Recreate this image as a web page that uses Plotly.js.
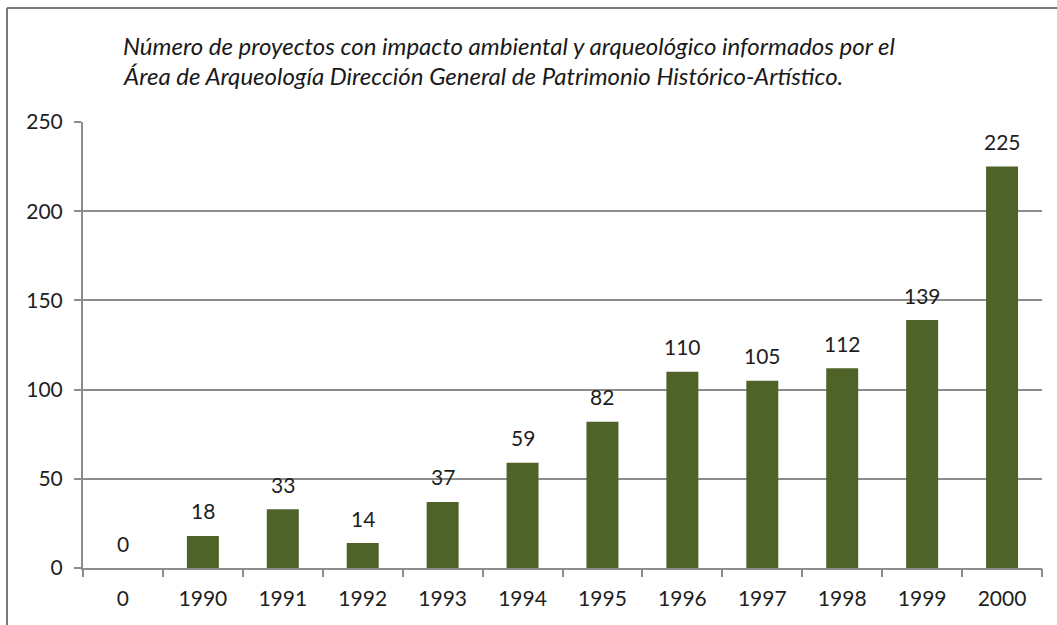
<!DOCTYPE html>
<html><head><meta charset="utf-8">
<script src="https://cdn.plot.ly/plotly-3.0.1.min.js"></script>
<style>html,body{margin:0;padding:0;background:#fff}#c{width:1057px;height:625px}</style>
</head><body><div id="c"></div>
<script>
const categories = ["0","1990","1991","1992","1993","1994","1995","1996","1997","1998","1999","2000"];
const values = [0,18,33,14,37,59,82,110,105,112,139,225];
const yTicks = [0,50,100,150,200,250];
const titleLines = [
  "Número de proyectos con impacto ambiental y arqueológico informados por el",
  "Área de Arqueología Dirección General de Patrimonio Histórico-Artístico."
];

const FONT = "Lato, 'Open Sans', 'Noto Sans', sans-serif";
const barColor = "#4f6228";

const trace = {
  type: "bar",
  x: categories.map((c, i) => i),
  y: values,
  width: 0.4,
  marker: {color: barColor},
  hoverinfo: "skip"
};

const L = 83, R = 15, T = 122, B = 57, W = 1057, H = 625;
const pw = W - L - R, ph = H - T - B;
const px = v => (v - L) / pw;
const py = v => (H - B - v) / ph;

const annotations = categories.map((c, i) => ({
  x: i, y: values[i], xref: "x", yref: "y",
  text: String(values[i]), showarrow: false,
  yanchor: "middle", yshift: 25,
  font: {family: FONT, size: 21, color: "#1e1e1e"}
})).concat(titleLines.map((t, k) => ({
  xref: "paper", yref: "paper",
  x: px(121), y: py(45 + 30 * k),
  xanchor: "left", yanchor: "middle",
  text: t, showarrow: false,
  font: {family: FONT, size: 24, color: "#1a1a1a", style: "italic"}
})));

const layout = {
  width: W, height: H,
  margin: {l: L, r: R, t: T, b: B, pad: 0},
  paper_bgcolor: "#fff", plot_bgcolor: "#fff",
  showlegend: false,
  xaxis: {
    range: [-0.5, categories.length - 0.5],
    tickmode: "array",
    tickvals: categories.map((c, i) => i),
    ticktext: categories,
    showline: true, linecolor: "#8c8c8c", linewidth: 2,
    ticks: "",
    tickfont: {family: FONT, size: 21, color: "#1e1e1e"},
    ticklabelstandoff: 11,
    showgrid: false, zeroline: false, fixedrange: true
  },
  xaxis2: {
    overlaying: "x", matches: "x", anchor: "y",
    range: [-0.5, categories.length - 0.5],
    tickmode: "array",
    tickvals: categories.map((c, i) => i - 0.5).concat([categories.length - 0.5]),
    showticklabels: false,
    ticks: "outside", ticklen: 8, tickwidth: 2, tickcolor: "#8c8c8c",
    showgrid: false, zeroline: false, showline: false, fixedrange: true
  },
  yaxis: {
    range: [0, 250],
    tickvals: yTicks,
    showline: true, linecolor: "#8c8c8c", linewidth: 2,
    ticks: "outside", ticklen: 7, tickwidth: 2, tickcolor: "#8c8c8c",
    tickfont: {family: FONT, size: 21, color: "#1e1e1e"},
    ticklabelstandoff: 7,
    showgrid: true, gridcolor: "#8c8c8c", gridwidth: 2,
    zeroline: false, fixedrange: true
  },
  annotations: annotations,
  shapes: [
    {type: "line", xref: "paper", yref: "paper", x0: px(7), x1: px(1057), y0: py(8), y1: py(8), line: {color: "#7a7a7a", width: 2}},
    {type: "line", xref: "paper", yref: "paper", x0: px(7), x1: px(7), y0: py(8), y1: py(625), line: {color: "#7a7a7a", width: 2}}
  ]
};

const tickTrace = {type: "bar", x: [0], y: [0], xaxis: "x2", yaxis: "y", hoverinfo: "skip", marker: {color: "rgba(0,0,0,0)"}, showlegend: false};

Plotly.newPlot("c", [trace, tickTrace], layout, {displayModeBar: false, staticPlot: true});
</script></body></html>
